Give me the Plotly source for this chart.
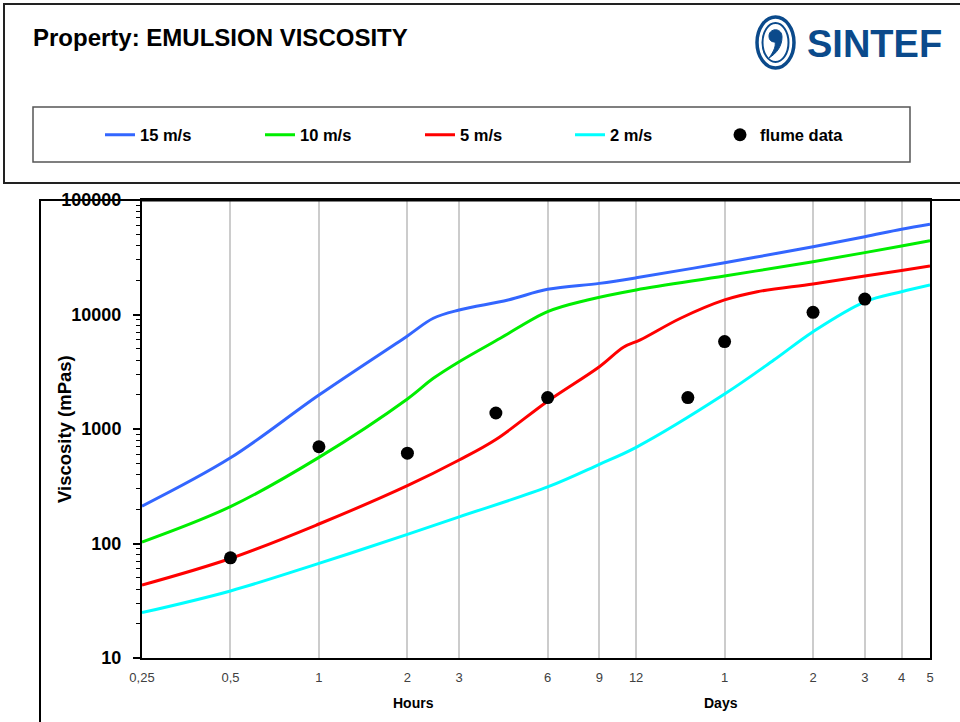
import math
import plotly.graph_objects as go

# ---------------- data ----------------
x_tick_hours = [0.25, 0.5, 1, 2, 3, 6, 9, 12, 24, 48, 72, 96, 120]
x_tick_text = ["0,25", "0,5", "1", "2", "3", "6", "9", "12", "1", "2", "3", "4", "5"]

hours_15 = [0.25, 0.5, 1, 2, 2.45, 3, 4.4, 6, 9, 12, 24, 48, 72, 96, 120]
visc_15 = [212, 560, 1980, 6500, 9270, 10950, 13400, 16600, 18700, 20900, 28300, 39100, 47800, 55500, 61400]

hours_10 = [0.25, 0.5, 1, 2, 2.45, 3, 4.14, 6, 8.2, 12, 24, 48, 72, 96, 120]
visc_10 = [103, 210, 565, 1830, 2770, 3870, 6200, 10600, 13400, 16400, 21700, 28900, 34700, 39700, 44100]

hours_5 = [0.25, 0.5, 1, 2, 3, 4, 6, 9, 10.9, 12.4, 17, 24, 31, 48, 72, 96, 120]
visc_5 = [43.4, 74, 148, 320, 536, 810, 1750, 3500, 5200, 6000, 9270, 13400, 15800, 18500, 21700, 24200, 26500]

hours_2 = [0.25, 0.5, 1, 2, 3, 6, 9, 12, 24, 35.3, 48, 72, 96, 120]
visc_2 = [24.9, 38.5, 67, 120, 171, 312, 492, 692, 2020, 4000, 7080, 12900, 15800, 18100]

flume_hours = [0.5, 1, 2, 4, 6, 18, 24, 48, 72]
flume_visc = [75, 700, 615, 1380, 1880, 1880, 5800, 10450, 13650]

series = [
    ("15 m/s", hours_15, visc_15, "#3366FF"),
    ("10 m/s", hours_10, visc_10, "#00EE00"),
    ("5 m/s", hours_5, visc_5, "#FF0000"),
    ("2 m/s", hours_2, visc_2, "#00FFFF"),
]

# ---------------- layout geometry ----------------
W, H = 960, 722
L, R, T, B = 142, 930, 200, 658


def px(x):
    return (x - L) / (R - L)


def py(y):
    return (B - y) / (B - T)


FONT = "Arial, Liberation Sans, sans-serif"

fig = go.Figure()

legend_names = ["legend", "legend2", "legend3", "legend4", "legend5"]
for i, (name, xs, ys, col) in enumerate(series):
    fig.add_trace(go.Scatter(
        x=xs, y=ys, mode="lines", name=name,
        line=dict(color=col, width=3, shape="spline", smoothing=1.0),
        legend=legend_names[i],
    ))

fig.add_trace(go.Scatter(
    x=flume_hours, y=flume_visc, mode="markers", name="flume data",
    marker=dict(color="black", size=13),
    legend=legend_names[4],
))

legend_x_text = [140, 300, 460, 610, 760]
leg_common = dict(
    orientation="h", yanchor="middle", xanchor="left",
    bgcolor="rgba(0,0,0,0)", borderwidth=0,
    font=dict(family=FONT, size=16.5, color="black", weight="bold"),
)
legends = {}
for i, ln in enumerate(legend_names):
    legends[ln] = dict(leg_common, x=px(legend_x_text[i] - 40), y=py(135))

minor_y = [k * 10 ** d for d in range(1, 5) for k in range(2, 10)]

shapes = [
    # header box
    dict(type="rect", xref="paper", yref="paper", x0=px(4), x1=px(975), y0=py(183), y1=py(4),
         line=dict(color="#222222", width=2), layer="below"),
    # legend box
    dict(type="rect", xref="paper", yref="paper", x0=px(33), x1=px(910), y0=py(162), y1=py(107),
         line=dict(color="#555555", width=1.5), layer="below"),
    # chart frame
    dict(type="rect", xref="paper", yref="paper", x0=px(40), x1=px(980), y0=py(740), y1=py(200),
         line=dict(color="black", width=2), layer="below"),
    # thick top of plot
    dict(type="line", xref="paper", yref="paper", x0=0, x1=1, y0=1, y1=1,
         line=dict(color="black", width=3)),
    # SINTEF emblem
    dict(type="circle", xref="paper", yref="paper", x0=px(757), x1=px(794), y0=py(68), y1=py(17),
         line=dict(color="#0B4A8B", width=3.5)),
    dict(type="circle", xref="paper", yref="paper", x0=px(762.5), x1=px(788.5), y0=py(62), y1=py(23),
         line=dict(color="#0B4A8B", width=2)),
]

path = (f"M {px(769)} {py(36)} "
        f"C {px(769)} {py(28)} {px(782)} {py(27)} {px(782)} {py(37)} "
        f"C {px(782)} {py(46)} {px(777)} {py(53)} {px(769)} {py(58)} "
        f"C {px(774)} {py(51)} {px(776)} {py(46)} {px(775)} {py(42)} "
        f"C {px(771)} {py(42)} {px(769)} {py(40)} {px(769)} {py(36)} Z")
shapes.append(dict(type="path", xref="paper", yref="paper", path=path,
                   fillcolor="#0B4A8B", line=dict(color="#0B4A8B", width=1)))

annotations = [
    dict(text="Property: EMULSION VISCOSITY", xref="paper", yref="paper",
         x=px(31), y=py(38), xanchor="left", yanchor="middle", showarrow=False,
         font=dict(family=FONT, size=24, color="black", weight="bold")),
    dict(text="SINTEF", xref="paper", yref="paper",
         x=px(805), y=py(44), xanchor="left", yanchor="middle", showarrow=False,
         font=dict(family=FONT, size=38, color="#0B4A8B", weight="bold")),
    dict(text="Viscosity (mPas)", xref="paper", yref="paper",
         x=px(64), y=py(429), xanchor="center", yanchor="middle", showarrow=False,
         textangle=-90,
         font=dict(family=FONT, size=18.5, color="black", weight="bold")),
    dict(text="Hours", xref="paper", yref="paper",
         x=px(413), y=py(703), xanchor="center", yanchor="middle", showarrow=False,
         font=dict(family=FONT, size=14, color="black", weight="bold")),
    dict(text="Days", xref="paper", yref="paper",
         x=px(721), y=py(703), xanchor="center", yanchor="middle", showarrow=False,
         font=dict(family=FONT, size=14, color="black", weight="bold")),
]

fig.update_layout(
    width=W, height=H,
    margin=dict(l=L, r=W - R, t=T, b=H - B, pad=0),
    paper_bgcolor="white", plot_bgcolor="white",
    showlegend=True,
    shapes=shapes, annotations=annotations,
    **legends,
)

fig.update_xaxes(
    type="log", range=[math.log10(0.25), math.log10(120)],
    tickvals=x_tick_hours, ticktext=x_tick_text,
    showgrid=True, gridcolor="#CCCCCC", gridwidth=2,
    ticks="", ticklabelstandoff=6,
    tickfont=dict(family=FONT, size=13, color="#404040"),
    showline=True, linecolor="black", linewidth=2, mirror=True,
    zeroline=False,
)
fig.update_yaxes(
    type="log", range=[1, 5],
    tickvals=[10, 100, 1000, 10000, 100000],
    ticktext=["10", "100", "1000", "10000", "100000"],
    showgrid=False, ticks="outside", ticklen=7, tickwidth=1.5, tickcolor="black",
    ticklabelstandoff=8,
    minor=dict(tickvals=minor_y, ticks="outside", ticklen=4, tickwidth=1, tickcolor="black", showgrid=False),
    tickfont=dict(family=FONT, size=18, color="black", weight="bold"),
    showline=True, linecolor="black", linewidth=2, mirror=True,
    zeroline=False,
)

fig.write_html("out.html")
